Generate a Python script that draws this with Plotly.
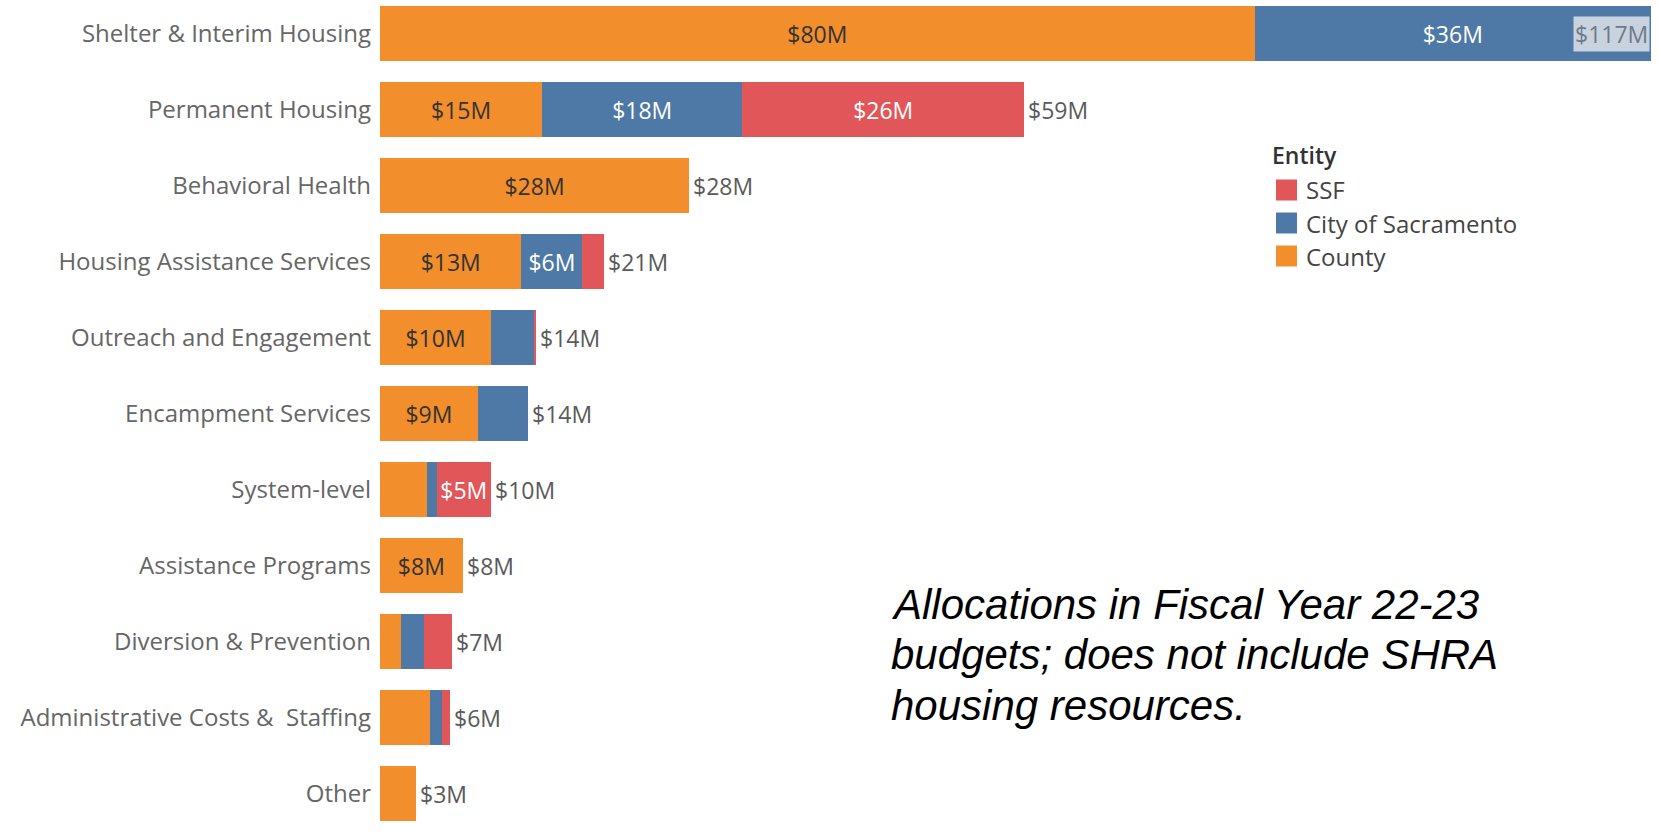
import plotly.graph_objects as go

# ---------------- data ----------------
categories = ["Shelter & Interim Housing", "Permanent Housing", "Behavioral Health",
              "Housing Assistance Services", "Outreach and Engagement", "Encampment Services",
              "System-level", "Assistance Programs", "Diversion & Prevention",
              "Administrative Costs &  Staffing", "Other"]
county = [80.4, 14.9, 28.4, 13.0, 10.2, 9.0, 4.3, 7.6, 1.9, 4.6, 3.3]
city_of_sacramento = [36.4, 18.4, 0.0, 5.6, 4.0, 4.6, 0.9, 0.0, 2.1, 1.1, 0.0]
ssf = [0.0, 25.9, 0.0, 2.0, 0.1, 0.0, 5.0, 0.0, 2.6, 0.7, 0.0]

entities = ["County", "City of Sacramento", "SSF"]
entity_values = [county, city_of_sacramento, ssf]
entity_colors = ["#F28E2B", "#4E79A7", "#E15759"]
entity_text_colors = ["#333333", "#FFFFFF", "#FFFFFF"]

note_lines = ["Allocations in Fiscal Year 22-23",
              "budgets; does not include SHRA",
              "housing resources."]

# ---------------- geometry ----------------
W, H = 1658, 832
L = 380
PLOT_W = W - L
PX_PER_M = 10.88
XMAX = PLOT_W / PX_PER_M
LABEL_MIN = 4.8


def px_x(px):
    return (px - L) / PLOT_W


def px_y(py):
    return 1 - py / H


FONT = "Open Sans"
VAL_SIZE = 23

fig = go.Figure()
for name, vals, col, tcol in zip(entities, entity_values, entity_colors, entity_text_colors):
    fig.add_trace(go.Bar(
        name=name, y=categories, x=vals, orientation="h",
        marker=dict(color=col, line=dict(width=0)),
        text=[f"${v:.0f}M" if v >= LABEL_MIN else "" for v in vals],
        textposition="inside", insidetextanchor="middle", textangle=0,
        textfont=dict(family=FONT, size=VAL_SIZE, color=tcol),
        width=0.72, showlegend=False,
        hovertemplate="%{y}<br>" + name + ": $%{x}M<extra></extra>",
    ))

totals = [a + b + c for a, b, c in zip(county, city_of_sacramento, ssf)]
annotations = []
for cat, tot in zip(categories, totals):
    label = f"${tot:.0f}M"
    if tot + 6 > XMAX:
        annotations.append(dict(x=tot, y=cat, xref="x", yref="y", text=label,
                                showarrow=False, xanchor="right", yanchor="middle",
                                xshift=-1, bgcolor="#C9D3DF", borderpad=1,
                                font=dict(family=FONT, size=VAL_SIZE, color="#6E7B8A")))
    else:
        annotations.append(dict(x=tot, y=cat, xref="x", yref="y", text=label,
                                showarrow=False, xanchor="left", yanchor="middle",
                                xshift=2,
                                font=dict(family=FONT, size=VAL_SIZE, color="#5A5A5A")))

# legend (drawn manually to match swatch size)
annotations.append(dict(x=px_x(1270), y=px_y(155), xref="paper", yref="paper",
                        text="Entity", showarrow=False, xanchor="left", yanchor="middle",
                        font=dict(family=FONT, size=23, color="#333333", weight=600)))
shapes = []
legend_order = [2, 1, 0]
for i, k in enumerate(legend_order):
    cy = 190 + i * 33
    shapes.append(dict(type="rect", xref="paper", yref="paper",
                       x0=px_x(1276), x1=px_x(1297), y0=px_y(cy + 10.5), y1=px_y(cy - 10.5),
                       fillcolor=entity_colors[k], line=dict(width=0)))
    annotations.append(dict(x=px_x(1304), y=px_y(cy), xref="paper", yref="paper",
                            text=entities[k], showarrow=False, xanchor="left", yanchor="middle",
                            font=dict(family=FONT, size=24, color="#444444")))

# note
for i, line in enumerate(note_lines):
    annotations.append(dict(x=px_x(889), y=px_y(604 + i * 50.8), xref="paper", yref="paper",
                            text=f"<i>{line}</i>", showarrow=False, xanchor="left",
                            yanchor="middle",
                            font=dict(family="Liberation Sans", size=42, color="#000000")))

n = len(categories)
fig.update_layout(
    width=W, height=H,
    margin=dict(l=L, r=0, t=0, b=0, pad=0),
    barmode="stack",
    plot_bgcolor="white", paper_bgcolor="white",
    xaxis=dict(range=[0, XMAX], visible=False, showgrid=False, zeroline=False),
    yaxis=dict(type="category", categoryorder="array", categoryarray=categories,
               range=[n - 1 + 0.505, -0.445], showgrid=False, zeroline=False,
               showline=False, ticks="", ticklabelstandoff=8,
               tickfont=dict(family=FONT, size=24, color="#666666")),
    uniformtext=dict(minsize=VAL_SIZE, mode="show"),
    annotations=annotations,
    shapes=shapes,
    showlegend=False,
)

fig.write_html("out.html", config={"displayModeBar": False},
               post_script="document.body.style.margin='0';")
